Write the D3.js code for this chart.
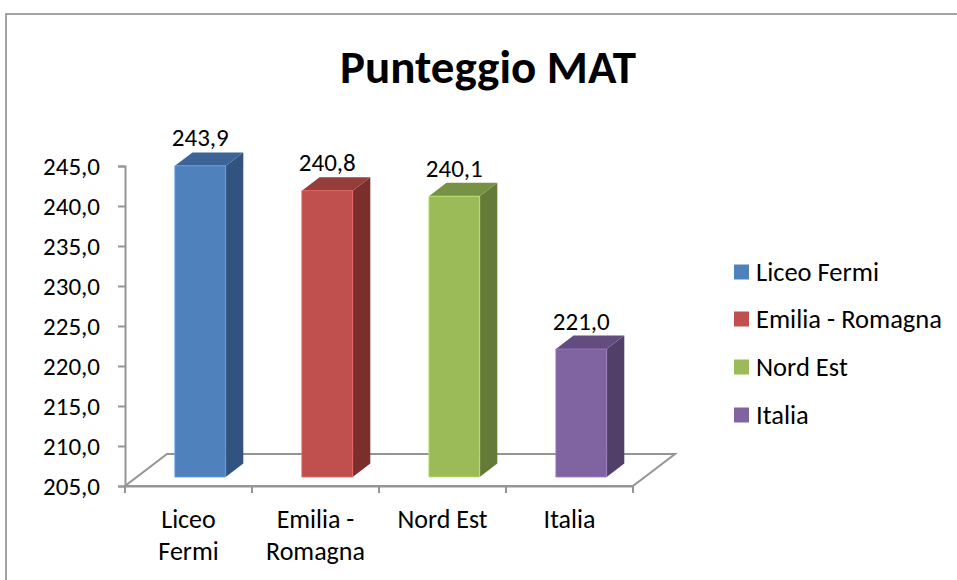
<!DOCTYPE html>
<html>
<head>
<meta charset="utf-8">
<script src="https://cdn.jsdelivr.net/npm/d3@7"></script>
<style>
  body { margin: 0; background: #fff; }
  svg text { font-family: Carlito, Lato, "Open Sans", sans-serif; fill: #000; }
</style>
</head>
<body>
<svg id="chart"></svg>
<script>
// data
const categories = ['Liceo Fermi', 'Emilia - Romagna', 'Nord Est', 'Italia']
const axisLabels = [['Liceo', 'Fermi'], ['Emilia -', 'Romagna'], ['Nord Est'], ['Italia']]
const values = [243.9, 240.8, 240.1, 221.0]
const yTicks = [205, 210, 215, 220, 225, 230, 235, 240, 245]
const frontColors = ['#4F81BD', '#C0504D', '#9BBB59', '#8064A2']
const topColors = ['#3C6495', '#943D3B', '#789245', '#634D80']
const sideColors = ['#32537F', '#7A2F2D', '#647A39', '#523F69']

const width = 957
const height = 580

// plot area (front plane of the 3d box)
const plot = { left: 125, right: 633, top: 166, bottom: 486 }
const depth = { dx: 42, dy: -32 }
const barZ = [0.28, 0.70]

const svg = d3.select('svg#chart').attr('width', width).attr('height', height)

const it = d3.formatLocale({ decimal: ',', thousands: '.', grouping: [3], currency: ['€', ''] })
const fmt = it.format('.1f')

const xScale = d3.scaleBand().domain(categories).range([plot.left, plot.right])
const yScale = d3.scaleLinear().domain([205, 245]).range([plot.bottom, plot.top])

// project a point on the front plane back by depth z (0..1)
const proj = (x, y, z) => [x + z * depth.dx, y + z * depth.dy]

// chart border
svg.append('rect')
  .attr('x', 6).attr('y', 14)
  .attr('width', width + 20).attr('height', height + 20)
  .attr('fill', 'none').attr('stroke', '#868686').attr('stroke-width', 1.5)

// title
svg.append('text')
  .attr('x', 488).attr('y', 83)
  .attr('text-anchor', 'middle')
  .style('font-size', '47px').style('font-weight', 'bold')
  .text('Punteggio MAT')

// floor
const y0 = yScale(205)
const floorPts = [
  [plot.left, y0], [plot.right, y0],
  proj(plot.right, y0, 1), proj(plot.left, y0, 1)
]
svg.append('polygon')
  .attr('points', floorPts.map(p => p.join(',')).join(' '))
  .attr('fill', 'none').attr('stroke', '#959595').attr('stroke-width', 2)

// y axis
const axisY = svg.append('g')
  .attr('transform', 'translate(' + plot.left + ',0)')
  .call(d3.axisLeft(yScale).tickValues(yTicks).tickFormat(fmt).tickSize(7).tickPadding(18))
axisY.select('.domain').attr('stroke', '#959595').attr('stroke-width', 2)
axisY.selectAll('.tick line').attr('stroke', '#959595').attr('stroke-width', 2)
axisY.selectAll('.tick text').style('font-size', '25px').style('font-family', 'Carlito, Lato, sans-serif')

// x axis
const axisX = svg.append('g')
  .attr('transform', 'translate(0,' + plot.bottom + ')')
  .call(d3.axisBottom(xScale).tickSize(0).tickFormat(''))
axisX.select('.domain').attr('stroke', '#959595').attr('stroke-width', 2)
const bounds = categories.map(c => xScale(c)).concat([plot.right])
axisX.selectAll('line.bound').data(bounds).enter().append('line')
  .attr('class', 'bound')
  .attr('x1', d => d).attr('x2', d => d)
  .attr('y1', 0).attr('y2', 7)
  .attr('stroke', '#959595').attr('stroke-width', 2)

// category labels
const catLabels = svg.append('g').selectAll('text').data(categories).enter().append('text')
  .attr('text-anchor', 'middle')
  .attr('x', d => xScale(d) + xScale.bandwidth() / 2)
  .attr('y', 528)
  .style('font-size', '26px')
catLabels.each(function (d, i) {
  const t = d3.select(this)
  axisLabels[i].forEach((line, j) => {
    t.append('tspan')
      .attr('x', xScale(d) + xScale.bandwidth() / 2)
      .attr('dy', j === 0 ? 0 : 32)
      .text(line)
  })
})

// bars
const barW = xScale.bandwidth() * 0.4
const bars = svg.append('g').selectAll('g').data(categories).enter().append('g')
bars.each(function (d, i) {
  const g = d3.select(this)
  const cx = xScale(d) + xScale.bandwidth() / 2
  const xl = cx - barW / 2
  const xr = cx + barW / 2
  const yt = yScale(values[i])
  const yb = yScale(205)
  const fl = proj(xl, yt, barZ[0]), fr = proj(xr, yt, barZ[0])
  const bl = proj(xl, yt, barZ[1]), br = proj(xr, yt, barZ[1])
  const flb = proj(xl, yb, barZ[0]), frb = proj(xr, yb, barZ[0])
  const brb = proj(xr, yb, barZ[1])
  const poly = pts => pts.map(p => p.join(',')).join(' ')
  // side
  g.append('polygon').attr('points', poly([fr, br, brb, frb])).attr('fill', sideColors[i])
  // top
  g.append('polygon').attr('points', poly([fl, fr, br, bl])).attr('fill', topColors[i])
  // front
  g.append('polygon').attr('points', poly([fl, fr, frb, flb])).attr('fill', frontColors[i])
    .attr('stroke', d3.color(frontColors[i]).brighter(0.6)).attr('stroke-width', 0.8)
  // value label
  g.append('text')
    .attr('x', (fl[0] + fr[0]) / 2)
    .attr('y', bl[1] - 6)
    .attr('text-anchor', 'middle')
    .style('font-size', '25px')
    .text(fmt(values[i]))
})

// legend
const legend = svg.append('g').attr('transform', 'translate(734,0)')
const legendY = [272, 319, 367, 415]
const items = legend.selectAll('g').data(categories).enter().append('g')
  .attr('transform', (d, i) => 'translate(0,' + legendY[i] + ')')
items.append('rect')
  .attr('x', 0).attr('y', -7.5).attr('width', 15).attr('height', 15)
  .attr('fill', (d, i) => frontColors[i])
items.append('text')
  .attr('x', 22).attr('y', 8.5)
  .style('font-size', '26.5px')
  .text(d => d)
</script>
</body>
</html>
